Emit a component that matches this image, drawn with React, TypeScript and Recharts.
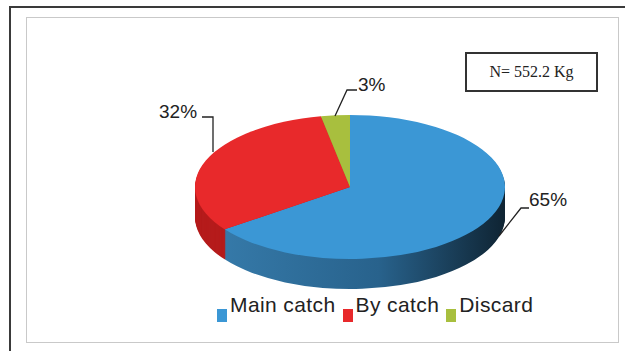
import { PieChart, Pie, Cell, Legend } from 'recharts';

// catch composition (share of 552.2 Kg)
const categories = ['Main catch', 'By catch', 'Discard'];
const shares = [65, 32, 3];
const topColors = ['#3b97d5', '#e8292b', '#a8bf3e'];
const sideColors = ['url(#sideBlue)', '#b51c1c', '#7f9428'];
const totalLabel = 'N= 552.2 Kg';

const data = categories.map((name, i) => ({ name, value: shares[i] }));

// 3D look: the svg is squashed vertically and the rim is built from stacked pies
const K = 0.4645;
const RX = 155;
const CX = 350;
const CY = 160;
const TOP = 112.7;
const DEPTH = 30;
const layers = Array.from({ length: DEPTH }, (_, i) => DEPTH - i);

const FONT = '"Liberation Sans", Arial, sans-serif';

// legend drawn from the category list (pie payload repeats per layer)
const renderLegend = () => (
  <div style={{ display: 'flex', fontFamily: FONT, fontSize: 21, lineHeight: '24px', color: '#222', letterSpacing: 0.4 }}>
    {categories.map((name, idx) => (
      <span key={name} style={{ marginRight: 7, whiteSpace: 'nowrap' }}>
        <span
          style={{
            display: 'inline-block',
            width: 10,
            height: 13,
            background: topColors[idx],
            verticalAlign: -10,
            marginRight: 3,
          }}
        />
        {name}
      </span>
    ))}
  </div>
);

export default function App() {
  return (
    <div style={{ position: 'absolute', left: 0, top: 0, width: 625, height: 351, overflow: 'hidden', background: '#fff' }}>
      <style>{`.pie3d svg.recharts-surface { transform: translate(0px, ${TOP}px) scaleY(${K}); transform-origin: 0 0; }`}</style>
      <svg width={0} height={0} style={{ position: 'absolute' }}>
        <defs>
          <linearGradient id="sideBlue" x1="0" y1="0" x2="1" y2="0">
            <stop offset="0%" stopColor="#3579a8" />
            <stop offset="55%" stopColor="#28628c" />
            <stop offset="100%" stopColor="#0f2433" />
          </linearGradient>
        </defs>
      </svg>

      {/* frames */}
      <div style={{ position: 'absolute', left: 9, top: 6, width: 640, height: 360, border: '2px solid #3a3a3a' }} />
      <div style={{ position: 'absolute', left: 26, top: 17, width: 591, height: 324, border: '1px solid #c9c9c9' }} />

      <div className="pie3d" style={{ position: 'absolute', left: 0, top: 0 }}>
        <PieChart width={625} height={420} margin={{ top: 0, right: 0, bottom: 0, left: 0 }}>
          {layers.map((d) => (
            <Pie
              key={`side-${d}`}
              data={data}
              dataKey="value"
              nameKey="name"
              cx={CX}
              cy={CY + d / K}
              outerRadius={RX}
              startAngle={90}
              endAngle={-270}
              stroke="none"
              legendType="none"
              isAnimationActive={false}
            >
              {data.map((_, i) => (
                <Cell key={`s-${d}-${i}`} fill={sideColors[i]} />
              ))}
            </Pie>
          ))}
          <Pie
            data={data}
            dataKey="value"
            nameKey="name"
            cx={CX}
            cy={CY}
            outerRadius={RX}
            startAngle={90}
            endAngle={-270}
            stroke="none"
            legendType="square"
            isAnimationActive={false}
          >
            {data.map((_, i) => (
              <Cell key={`t-${i}`} fill={topColors[i]} />
            ))}
          </Pie>
          <Legend
            content={renderLegend}
            wrapperStyle={{ left: 217, top: 293, bottom: 'auto', width: 400 }}
          />
        </PieChart>
      </div>

      {/* slice labels with leaders */}
      <svg width={625} height={351} style={{ position: 'absolute', left: 0, top: 0, pointerEvents: 'none' }}>
        <g fontFamily={FONT} fontSize={19} fill="#222">
          <text x={159} y={118}>{`${shares[1]}%`}</text>
          <text x={358} y={91}>{`${shares[2]}%`}</text>
          <text x={529} y={206}>{`${shares[0]}%`}</text>
        </g>
        <g fill="none" stroke="#222" strokeWidth={1.3}>
          <polyline points="202,117 213,117 213,152" />
          <polyline points="357,90 347,90 335,116" />
          <polyline points="529,208 521,208 499,236" />
        </g>
      </svg>

      {/* sample size box */}
      <div
        style={{
          position: 'absolute',
          left: 465,
          top: 52,
          width: 129,
          height: 36,
          border: '2px solid #333',
          fontFamily: '"Liberation Serif", "Times New Roman", serif',
          fontSize: 16,
          lineHeight: '36px',
          textAlign: 'center',
          color: '#222',
        }}
      >
        {totalLabel}
      </div>
    </div>
  );
}
